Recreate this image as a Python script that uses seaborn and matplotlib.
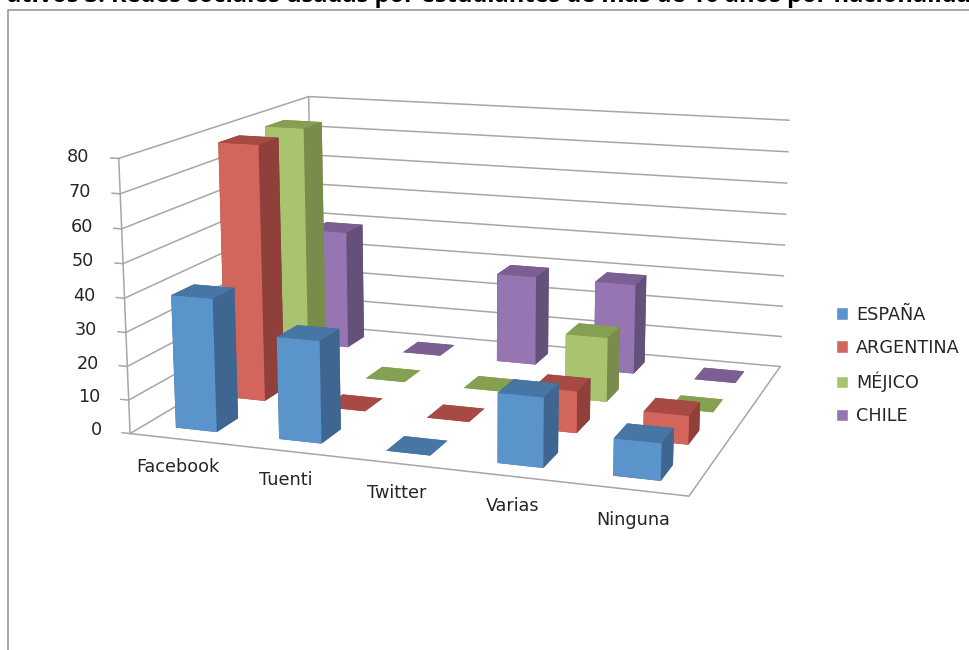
import matplotlib
matplotlib.use("Agg")
import matplotlib.pyplot as plt
from matplotlib.patches import Patch
import seaborn as sns

categories = ["Facebook", "Tuenti", "Twitter", "Varias", "Ninguna"]
series = ["ESPAÑA", "ARGENTINA", "MÉJICO", "CHILE"]
espana = [39.5, 30, 0, 20, 10.5]
argentina = [78.5, 0, 0, 12.5, 8.5]
mejico = [78.5, 0, 0, 20, 0]
chile = [39, 0, 29, 29, 0]
z_ticks = [0, 10, 20, 30, 40, 50, 60, 70, 80]

front = sns.color_palette(["#5B93CB", "#D2655C", "#A8C46F", "#9575B2"])
top = sns.color_palette(["#4776A5", "#A84A44", "#86A052", "#7B5F93"])
side = sns.color_palette(["#3F6690", "#8F403B", "#7A8C4B", "#645079"])

sns.set_theme(style="white")
plt.rcParams['font.family'] = ['DejaVu Sans']
GRID = "#a6a6a6"
TXT = "#262626"
FS = 12.7

fig = plt.figure(figsize=(9.7, 6.5), dpi=100, facecolor="white")
S = 1100
ax = fig.add_axes([(459 - S / 2) / 970, (365 - S / 2) / 650, S / 970, S / 650], projection="3d", computed_zorder=False)
ax.patch.set_alpha(0)
ax.set_proj_type("persp", focal_length=0.33)
ax.view_init(elev=13, azim=-71)
ax.set_box_aspect((2.25, 1.8, 1.1), zoom=0.66)
ax.set_xlim(-0.5, 4.5)
ax.set_ylim(-0.5, 3.5)
ax.set_zlim(0, 80)
ax.set_axis_off()

# walls and floor
for z in z_ticks:
    ax.plot([-0.5, -0.5, 4.5], [-0.5, 3.5, 3.5], [z, z, z], color=GRID, lw=1.1, zorder=1)
    ax.plot([-0.5, -0.58], [-0.5, -0.5], [z, z], color=GRID, lw=1.1, zorder=1)
    ax.text(-0.78, -0.5, z, str(z), ha="right", va="center", fontsize=FS, color=TXT)
ax.plot([-0.5, -0.5], [-0.5, -0.5], [0, 80], color=GRID, lw=1.1, zorder=1)
ax.plot([-0.5, -0.5], [3.5, 3.5], [0, 80], color=GRID, lw=1.1, zorder=1)
ax.plot([-0.5, 4.5, 4.5], [-0.5, -0.5, 3.5], [0, 0, 0], color=GRID, lw=1.1, zorder=1)

# back to front so nearer bars cover the others
w = 0.4
d = 0.43
values = [espana, argentina, mejico, chile]
z = 10
for s in range(3, -1, -1):
    for c in range(len(categories)):
        faces = [top[s], top[s], front[s], side[s], side[s], side[s]]
        ax.bar3d(c - w / 2, s - d / 2, 0, w, d, values[s][c], color=faces, shade=False, zorder=z + (3 - s) * 10 + c, linewidth=0)

for c, name in enumerate(categories):
    ax.text(c + 0.13, -0.82, -4.5, name, ha="center", va="center", fontsize=FS, color=TXT)

handles = [Patch(facecolor=front[i], label=series[i]) for i in range(4)]
fig.legend(handles=handles, loc="center left", bbox_to_anchor=(0.845, 0.438), frameon=False,
           fontsize=FS, handlelength=0.72, handleheight=0.72, labelspacing=0.85, handletextpad=0.45, labelcolor=TXT)

# frame and clipped heading from the pasted document
fig.add_artist(plt.Line2D([8.5 / 970, 8.5 / 970, 1], [0, 1 - 10 / 650, 1 - 10 / 650], color="#a0a0a0", lw=1.3))
fig.text(7 / 970, 1 - 1.5 / 650, "ativos 3. Redes sociales usadas por estudiantes de más de 16 años por nacionalidad",
         fontsize=17, fontweight="bold", family="Open Sans", color="black", va="baseline", ha="left")

fig.savefig("out.png", dpi=100)
